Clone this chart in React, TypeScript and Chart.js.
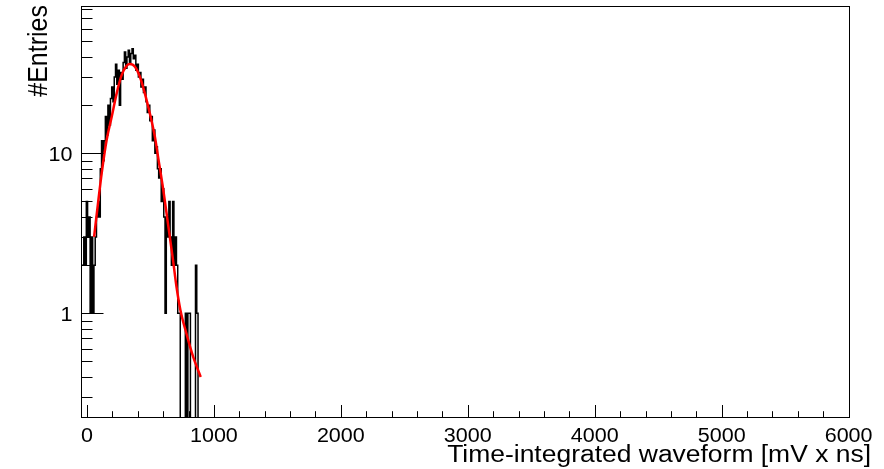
import { useEffect, useRef } from "react";
import { Chart, registerables } from "chart.js";

Chart.register(...registerables);

// ---------------- data ----------------
const BIN_LOW_EDGE = -45;
const BIN_WIDTH = 10;
// bin contents, bins of width 10 starting at -45
const binCounts = [
  2, 2, 3, 2, 5, 3, 4, 1, 3, 1,
  2, 3, 4, 5, 4, 8, 12, 9, 12, 17,
  13, 20, 15, 22, 26, 21, 30, 36, 27, 33,
  20, 32, 29, 37, 43, 34, 40, 44, 37, 42,
  45, 39, 41, 33, 36, 30, 32, 26, 29, 24,
  26, 21, 18, 20, 16, 17, 12, 14, 10, 11,
  8, 7, 8, 5, 6, 4, 1, 4, 3, 5,
  3, 2, 5, 2, 3, 2, 1, 1, 0, 0,
  0, 0, 1, 0, 1, 1, 0, 0, 0, 0,
  2, 1, 0,
];

// fitted curve
const fitX = [56, 90, 116, 155, 195, 234, 273, 312, 338, 378, 417, 456, 495, 535, 562, 600, 639, 678, 705, 736, 783, 835, 896];
const fitY = [3.0, 5.1, 7.5, 12.1, 16.9, 23.7, 30.8, 35.2, 36.2, 34.8, 30.1, 23.7, 17.8, 12.7, 9.3, 6.0, 3.6, 2.15, 1.47, 1.05, 0.75, 0.54, 0.4];

const xMajorTicks = [0, 1000, 2000, 3000, 4000, 5000, 6000];
const xTickLabels = ["0", "1000", "2000", "3000", "4000", "5000", "6000"];
const X_MINOR_DIV = 5;
const yMajorTicks = [1, 10];
const yTickLabels = ["1", "10"];
const yMinorTicks = [0.3, 0.4, 0.5, 0.6, 0.7, 0.8, 0.9, 2, 3, 4, 5, 6, 7, 8, 9, 20, 30, 40, 50, 60, 70, 80];

const xTitle = "Time-integrated waveform [mV x ns]";
const yTitle = "#Entries";

// ---------------- layout / style ----------------
const W = 884;
const H = 469;
const X_MIN = -43;
const X_MAX = 6007;
const Y_MIN = 0.2233;
const Y_MAX = 82.7;
const ZERO_FLOOR = 0.01;
const FONT = '"Liberation Sans", Arial, Helvetica, sans-serif';

const rootAxesPlugin = {
  id: "rootAxes",
  afterDraw(chart: any) {
    const { ctx, chartArea: a, scales } = chart;
    const xs = scales.x;
    const ys = scales.y;
    ctx.save();
    ctx.strokeStyle = "#000";
    ctx.lineWidth = 1;
    ctx.strokeRect(a.left, a.top, a.right - a.left, a.bottom - a.top);

    ctx.beginPath();
    // x ticks
    for (let i = 0; i < xMajorTicks.length; i++) {
      const v = xMajorTicks[i];
      const px = Math.round(xs.getPixelForValue(v)) + 0.5;
      ctx.moveTo(px, a.bottom);
      ctx.lineTo(px, a.bottom - 12.5);
      if (i < xMajorTicks.length - 1) {
        const step = (xMajorTicks[i + 1] - v) / X_MINOR_DIV;
        for (let k = 1; k < X_MINOR_DIV; k++) {
          const pm = Math.round(xs.getPixelForValue(v + k * step)) + 0.5;
          ctx.moveTo(pm, a.bottom);
          ctx.lineTo(pm, a.bottom - 6.3);
        }
      }
    }
    // y ticks
    for (const v of yMajorTicks) {
      const py = Math.round(ys.getPixelForValue(v)) + 0.5;
      ctx.moveTo(a.left, py);
      ctx.lineTo(a.left + 22, py);
    }
    for (const v of yMinorTicks) {
      const py = Math.round(ys.getPixelForValue(v)) + 0.5;
      ctx.moveTo(a.left, py);
      ctx.lineTo(a.left + 11, py);
    }
    ctx.stroke();

    ctx.fillStyle = "#000";
    // x tick labels
    ctx.font = `20.5px ${FONT}`;
    ctx.textBaseline = "alphabetic";
    ctx.textAlign = "center";
    xMajorTicks.forEach((v, i) => {
      ctx.save();
      ctx.translate(xs.getPixelForValue(v), 442);
      ctx.scale(1.05, 1);
      ctx.fillText(xTickLabels[i], 0, 0);
      ctx.restore();
    });
    // y tick labels
    ctx.textAlign = "right";
    yMajorTicks.forEach((v, i) => {
      ctx.save();
      ctx.translate(72.5, ys.getPixelForValue(v) + 7.3);
      ctx.scale(1.05, 1);
      ctx.fillText(yTickLabels[i], 0, 0);
      ctx.restore();
    });
    // x title
    ctx.font = `23px ${FONT}`;
    ctx.save();
    ctx.translate(871, 462);
    ctx.scale(1.15, 1);
    ctx.textAlign = "right";
    ctx.fillText(xTitle, 0, 0);
    ctx.restore();
    // y title
    ctx.font = `25px ${FONT}`;
    ctx.save();
    ctx.translate(46.5, 5);
    ctx.rotate(-Math.PI / 2);
    ctx.scale(1, 1.12);
    ctx.textAlign = "right";
    ctx.fillText(yTitle, 0, 0);
    ctx.restore();

    ctx.restore();
  },
};

export default function App() {
  const canvasRef = useRef<HTMLCanvasElement | null>(null);

  useEffect(() => {
    const canvas = canvasRef.current;
    if (!canvas) return;

    const histPoints: { x: number; y: number }[] = [{ x: BIN_LOW_EDGE, y: ZERO_FLOOR }];
    binCounts.forEach((c, i) => {
      histPoints.push({ x: BIN_LOW_EDGE + i * BIN_WIDTH, y: c > 0 ? c : ZERO_FLOOR });
    });
    histPoints.push({ x: BIN_LOW_EDGE + binCounts.length * BIN_WIDTH, y: ZERO_FLOOR });

    const fitPoints = fitX.map((x, i) => ({ x, y: fitY[i] }));

    const chart = new Chart(canvas, {
      type: "line",
      data: {
        datasets: [
          {
            label: "fit",
            data: fitPoints,
            borderColor: "#ff0000",
            borderWidth: 2.5,
            pointRadius: 0,
            cubicInterpolationMode: "monotone",
            fill: false,
          },
          {
            label: "histogram",
            data: histPoints,
            borderColor: "#000000",
            borderWidth: 1.5,
            pointRadius: 0,
            stepped: true,
            fill: false,
          },
        ],
      },
      options: {
        responsive: false,
        animation: false,
        devicePixelRatio: 1,
        layout: { padding: { left: 81.5, top: 6.5, right: W - 849.5, bottom: H - 417.5 } },
        plugins: { legend: { display: false }, tooltip: { enabled: false } },
        events: [],
        scales: {
          x: { type: "linear", min: X_MIN, max: X_MAX, display: false },
          y: { type: "logarithmic", min: Y_MIN, max: Y_MAX, display: false },
        },
      },
      plugins: [rootAxesPlugin],
    });
    return () => chart.destroy();
  }, []);

  return (
    <div style={{ position: "fixed", left: 0, top: 0, width: W, height: H, background: "#fff" }}>
      <canvas ref={canvasRef} width={W} height={H} style={{ display: "block" }} />
    </div>
  );
}
